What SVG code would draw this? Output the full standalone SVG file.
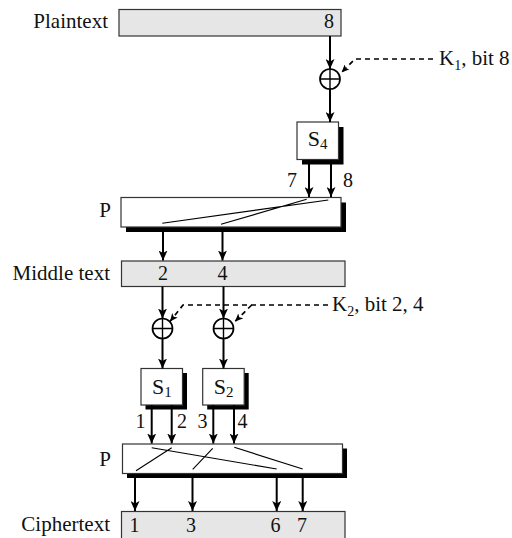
<svg xmlns="http://www.w3.org/2000/svg" width="512" height="538" viewBox="0 0 512 538">
<style>
text{font-family:"Liberation Serif","Times New Roman",serif;fill:#111}
.lbl{font-size:21px}
.num{font-size:20px}
.sub{font-size:14px}
.sl{font-size:22px}
.ss{font-size:15px}
.gray{fill:#e6e6e6;stroke:#333;stroke-width:1.2}
.box{fill:#fff;stroke:#333;stroke-width:1.2}
.sh{fill:#000}
.arr{fill:none;stroke:#000;stroke-width:2}
.dash{fill:none;stroke:#000;stroke-width:1.7;stroke-dasharray:5,4}
.thin{fill:none;stroke:#000;stroke-width:1.1}
.xor{fill:#fff;stroke:#000;stroke-width:1.7}
.plus{fill:none;stroke:#000;stroke-width:1.4}
</style>
<defs>
<marker id="ah" viewBox="0 0 10 9" refX="10" refY="4.5" markerWidth="10" markerHeight="9" markerUnits="userSpaceOnUse" orient="auto">
<path d="M0,0 L10,4.5 L0,9 L2.5,4.5 z" fill="#000"/>
</marker>
<marker id="ahs" viewBox="0 0 8 7" refX="8" refY="3.5" markerWidth="8" markerHeight="7" markerUnits="userSpaceOnUse" orient="auto">
<path d="M0,0 L8,3.5 L0,7 L2,3.5 z" fill="#000"/>
</marker>
</defs>

<g id="plaintext">
<text class="lbl" x="108" y="28" text-anchor="end">Plaintext</text>
<rect class="gray" x="119" y="9.5" width="222" height="26.5"/>
<text class="num" x="329" y="28" text-anchor="middle">8</text>
</g>

<g id="xor1">
<circle class="xor" cx="330" cy="79" r="10"/>
<path class="plus" d="M320,79 H340 M330,69 V89"/>
</g>

<g id="k1">
<text class="lbl" x="439" y="65">K<tspan class="sub" dy="5">1</tspan><tspan dy="-5">, bit 8</tspan></text>
</g>

<g id="s4">
<rect class="sh" x="302" y="127" width="41.5" height="37.5"/>
<rect class="box" x="297" y="122" width="41.5" height="37.5"/>
<text class="sl" x="317.5" y="145.5" text-anchor="middle">S<tspan class="ss" dy="3">4</tspan></text>
</g>

<g id="p1">
<text class="lbl" x="111" y="217" text-anchor="end">P</text>
<rect class="sh" x="126" y="202.5" width="220" height="29.5"/>
<rect class="box" x="121" y="197.5" width="220" height="29.5"/>
<path class="thin" d="M328.3,200 L162.3,223.3 M306.7,199.3 L221,224.3"/>
</g>

<g id="middletext">
<text class="lbl" x="110" y="280" text-anchor="end">Middle text</text>
<rect class="gray" x="121.5" y="261" width="223.5" height="25.5"/>
<text class="num" x="163" y="280" text-anchor="middle">2</text>
<text class="num" x="222.5" y="280" text-anchor="middle">4</text>
</g>

<g id="xor2">
<circle class="xor" cx="162.5" cy="328.5" r="10"/>
<path class="plus" d="M152.5,328.5 H172.5 M162.5,318.5 V338.5"/>
</g>
<g id="xor3">
<circle class="xor" cx="223.5" cy="328.5" r="10"/>
<path class="plus" d="M213.5,328.5 H233.5 M223.5,318.5 V338.5"/>
</g>

<g id="k2">
<text class="lbl" x="332" y="311">K<tspan class="sub" dy="5">2</tspan><tspan dy="-5">, bit 2, 4</tspan></text>
</g>

<g id="s1">
<rect class="sh" x="145.5" y="373" width="41.5" height="36.5"/>
<rect class="box" x="141" y="368.5" width="41.5" height="36.5"/>
<text class="sl" x="161.8" y="393.5" text-anchor="middle">S<tspan class="ss" dy="3">1</tspan></text>
</g>
<g id="s2">
<rect class="sh" x="207.2" y="373" width="41.5" height="36.5"/>
<rect class="box" x="202.7" y="368.5" width="41.5" height="36.5"/>
<text class="sl" x="223.5" y="393.5" text-anchor="middle">S<tspan class="ss" dy="3">2</tspan></text>
</g>

<g id="p2">
<text class="lbl" x="111" y="466" text-anchor="end">P</text>
<rect class="sh" x="127" y="448.5" width="220" height="29.5"/>
<rect class="box" x="122.5" y="444" width="220" height="29.5"/>
<path class="thin" d="M151.7,447.7 L276.7,469 M171.7,447.7 L136,470.7 M212.7,448.3 L192.7,469.3 M234.3,447.3 L302.7,469"/>
</g>

<g id="ciphertext">
<text class="lbl" x="110" y="531" text-anchor="end">Ciphertext</text>
<rect class="gray" x="121.5" y="511.5" width="223.5" height="40"/>
<text class="num" x="134.5" y="532" text-anchor="middle">1</text>
<text class="num" x="191" y="532" text-anchor="middle">3</text>
<text class="num" x="275.5" y="532" text-anchor="middle">6</text>
<text class="num" x="302" y="532" text-anchor="middle">7</text>
</g>

<g id="connectors">
<path class="arr" marker-end="url(#ah)" d="M330,36 V69"/>
<path class="arr" marker-end="url(#ah)" d="M330,89 V122"/>
<path class="dash" marker-end="url(#ahs)" d="M433,59 H355 L341.5,72.5"/>
<path class="arr" marker-end="url(#ah)" d="M309,160 V197"/>
<path class="arr" marker-end="url(#ah)" d="M331,160 V197"/>
<path class="arr" marker-end="url(#ah)" d="M163,232 V260.5"/>
<path class="arr" marker-end="url(#ah)" d="M222.5,232 V260.5"/>
<path class="arr" marker-end="url(#ah)" d="M162.5,286.5 V318.5"/>
<path class="arr" marker-end="url(#ah)" d="M223.5,286.5 V318.5"/>
<path class="dash" marker-end="url(#ahs)" d="M328,305 H183 L170,321.5"/>
<path class="dash" marker-end="url(#ahs)" d="M251.7,305 L235,321.5"/>
<path class="arr" marker-end="url(#ah)" d="M162.5,338.5 V368.5"/>
<path class="arr" marker-end="url(#ah)" d="M223.5,338.5 V368.5"/>
<path class="arr" marker-end="url(#ah)" d="M151.7,405 V443.5"/>
<path class="arr" marker-end="url(#ah)" d="M171.7,405 V443.5"/>
<path class="arr" marker-end="url(#ah)" d="M213.3,405 V443.5"/>
<path class="arr" marker-end="url(#ah)" d="M234,405 V443.5"/>
<path class="arr" marker-end="url(#ah)" d="M135,478 V511"/>
<path class="arr" marker-end="url(#ah)" d="M192.5,478 V511"/>
<path class="arr" marker-end="url(#ah)" d="M276.7,478 V511"/>
<path class="arr" marker-end="url(#ah)" d="M302.7,478 V511"/>
</g>
<g id="labels">
<text class="num" x="292" y="187" text-anchor="middle">7</text>
<text class="num" x="348" y="187" text-anchor="middle">8</text>
<text class="num" x="140.5" y="428" text-anchor="middle">1</text>
<text class="num" x="182" y="428" text-anchor="middle">2</text>
<text class="num" x="202.5" y="428" text-anchor="middle">3</text>
<text class="num" x="242.5" y="428" text-anchor="middle">4</text>
</g>
</svg>
